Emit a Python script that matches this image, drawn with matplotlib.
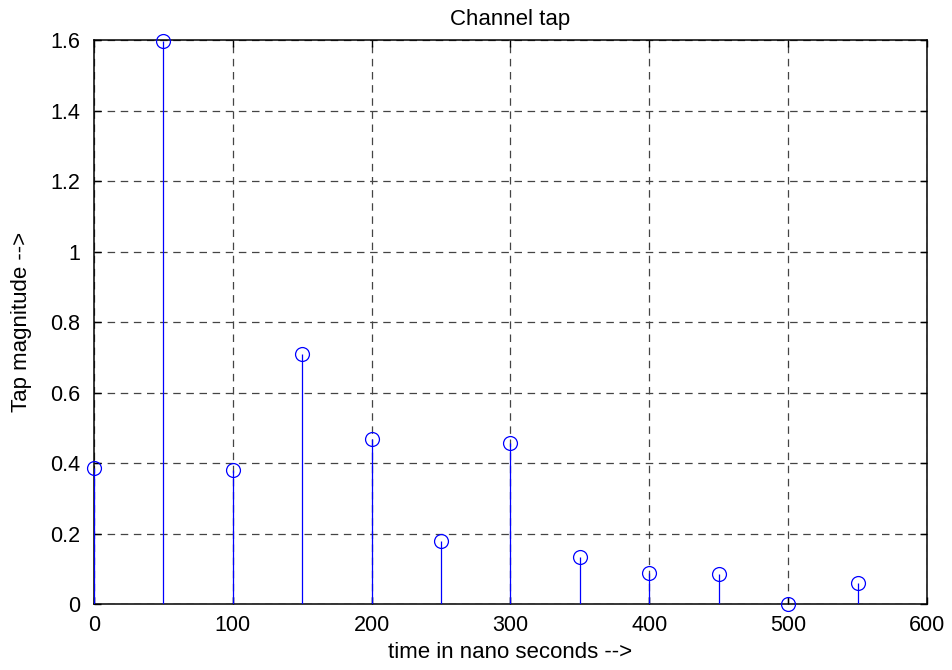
import matplotlib
matplotlib.use("Agg")
import matplotlib.pyplot as plt
import numpy as np
from matplotlib.ticker import FuncFormatter

plt.rcParams['font.family'] = ['Liberation Sans', 'DejaVu Sans']

# Tap delays (ns) and magnitudes
delays_ns = [0, 50, 100, 150, 200, 250, 300, 350, 400, 450, 500, 550]
tap_mag = [0.387, 1.598, 0.379, 0.709, 0.468, 0.178, 0.457, 0.133, 0.089, 0.084, 0.0, 0.060]

x_ticks = [0, 100, 200, 300, 400, 500, 600]
y_ticks = [0, 0.2, 0.4, 0.6, 0.8, 1.0, 1.2, 1.4, 1.6]

fig = plt.figure(figsize=(9.52, 6.7), dpi=100)
ax = fig.add_axes([0.0987, 0.0985, 0.8750, 0.8415])

blue = '#0000ff'
ax.vlines(delays_ns, 0, tap_mag, colors=blue, linewidth=0.9, zorder=3)
ax.plot(delays_ns, tap_mag, linestyle='none', marker='o', markersize=10,
        markerfacecolor='none', markeredgecolor=blue, markeredgewidth=0.9,
        clip_on=False, zorder=4)

ax.set_xlim(0, 600)
ax.set_ylim(0, 1.6)
ax.set_xticks(x_ticks)
ax.set_yticks(y_ticks)
ax.yaxis.set_major_formatter(FuncFormatter(lambda v, p: '%g' % round(v, 2)))

ax.grid(True, color='#444444', linestyle=(0, (6, 4.5)), linewidth=0.9, zorder=1)
ax.set_axisbelow(True)

ax.tick_params(direction='in', length=5, width=1, top=True, right=True,
               labelsize=15.5, colors='black')
ax.tick_params(axis='x', pad=8)
ax.tick_params(axis='y', pad=10)
for s in ax.spines.values():
    s.set_linewidth(1.1)
    s.set_color('black')

ax.set_title('Channel tap', fontsize=16, pad=11)
ax.set_xlabel('time in nano seconds -->', fontsize=16, labelpad=4)
ax.set_ylabel('Tap magnitude -->', fontsize=16, labelpad=13)

fig.savefig('out.png', dpi=100)
